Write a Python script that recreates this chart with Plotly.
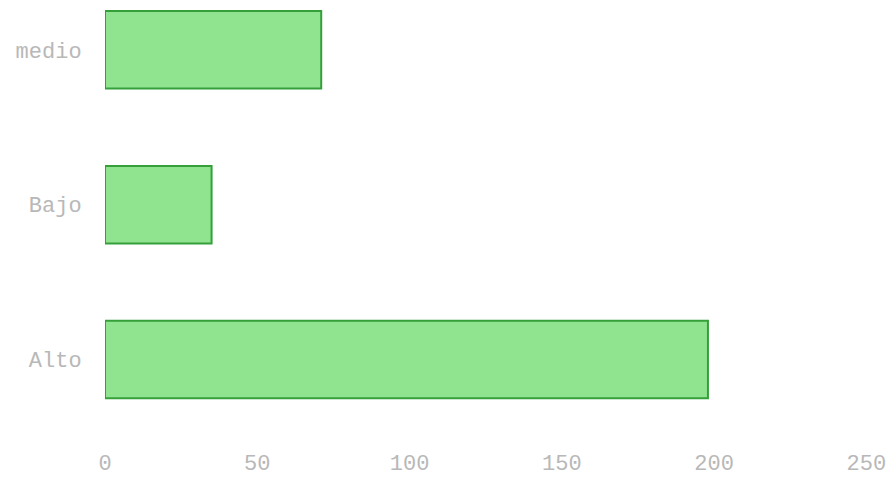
import plotly.graph_objects as go

categories = ["Alto", "Bajo", "medio"]
values = [198, 35, 71]
x_ticks = [0, 50, 100, 150, 200, 250]

fig = go.Figure(go.Bar(
    y=categories,
    x=values,
    orientation="h",
    width=0.5,
    marker=dict(color="#90E490", line=dict(color="#35A03A", width=2)),
))

font = dict(family="Liberation Mono, Courier New, monospace", size=22, color="#b8b8b8")

fig.update_layout(
    width=879, height=471,
    margin=dict(l=97, r=0, t=0, b=42),
    paper_bgcolor="white", plot_bgcolor="white",
    showlegend=False,
    font=font,
)
fig.update_xaxes(
    range=[0, 256.8], tickvals=x_ticks, showgrid=False, zeroline=False,
    showline=False, ticks="outside", ticklen=6, tickcolor="rgba(0,0,0,0)",
    tickfont=font,
)
fig.update_yaxes(
    range=[-0.5, 2.27], showgrid=False, zeroline=False, showline=False,
    ticks="outside", ticklen=18, tickcolor="rgba(0,0,0,0)", tickfont=font,
)

fig.write_html("out.html")
